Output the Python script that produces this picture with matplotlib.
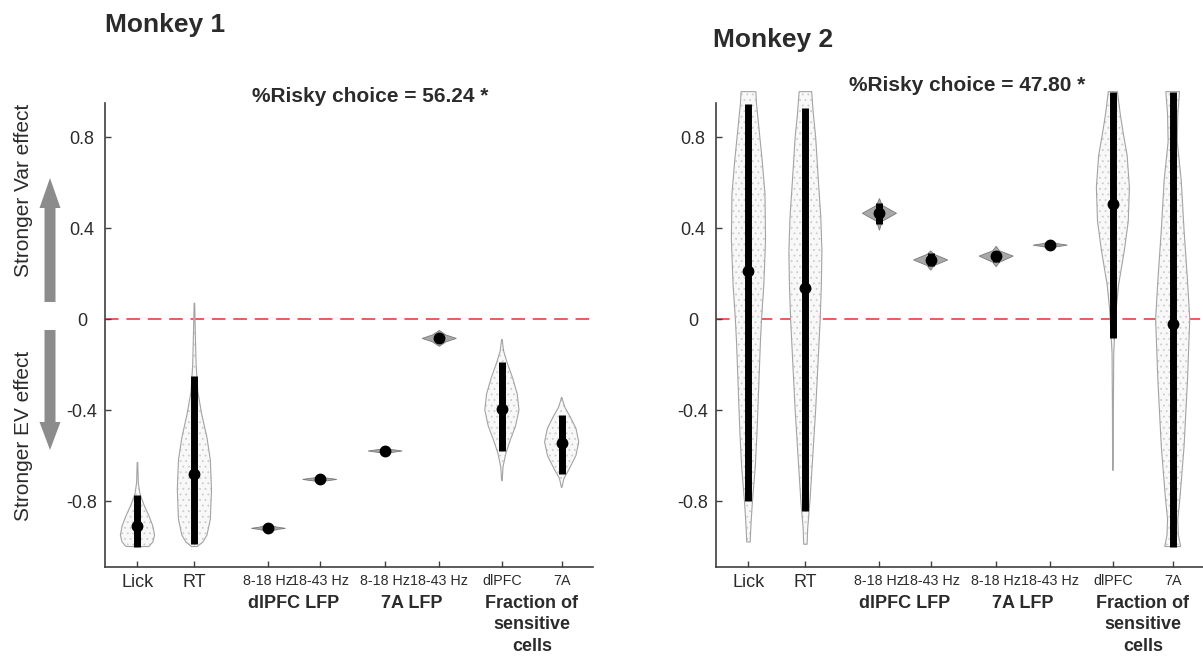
import numpy as np
import matplotlib.pyplot as plt
from matplotlib.patches import Polygon, FancyArrow

plt.rcParams['font.family'] = ['Liberation Sans', 'DejaVu Sans']
plt.rcParams['hatch.linewidth'] = 0.6

# categories along the x axis (same for both monkeys)
positions = [1, 2, 3.3, 4.2, 5.35, 6.3, 7.4, 8.45]
tick_labels = ['Lick', 'RT', '8-18 Hz', '18-43 Hz', '8-18 Hz', '18-43 Hz', 'dlPFC', '7A']
tick_sizes = [13, 13, 10.3, 10.3, 10.3, 10.3, 10.3, 10.3]
lfp_cats = [2, 3, 4, 5]  # small dark violins
group_labels = ['dlPFC LFP', '7A LFP', 'Fraction of\nsensitive\ncells']
group_pairs = [(2, 3), (4, 5), (6, 7)]

# Monkey 1
m1_title = '%Risky choice = 56.24 *'
m1_median = [-0.91, -0.68, -0.92, -0.705, -0.58, -0.085, -0.395, -0.545]
m1_bar_lo = [-1.0, -0.99, -0.925, -0.71, -0.585, -0.10, -0.58, -0.68]
m1_bar_hi = [-0.775, -0.25, -0.915, -0.70, -0.575, -0.07, -0.19, -0.42]
# violin outlines: (value, half width)
m1_profiles = [
    [(-1.0, 0.2), (-0.98, 0.27), (-0.95, 0.3), (-0.91, 0.27), (-0.87, 0.21), (-0.82, 0.12),
     (-0.77, 0.045), (-0.72, 0.015), (-0.63, 0.005)],
    [(-1.0, 0.05), (-0.98, 0.15), (-0.95, 0.22), (-0.88, 0.28), (-0.75, 0.3), (-0.62, 0.28),
     (-0.52, 0.22), (-0.42, 0.13), (-0.32, 0.06), (-0.2, 0.03), (-0.05, 0.015), (0.07, 0.005)],
    [(-0.935, 0.0), (-0.925, 0.16), (-0.92, 0.3), (-0.915, 0.16), (-0.905, 0.0)],
    [(-0.715, 0.0), (-0.71, 0.16), (-0.705, 0.3), (-0.70, 0.16), (-0.695, 0.0)],
    [(-0.59, 0.0), (-0.585, 0.16), (-0.58, 0.3), (-0.575, 0.16), (-0.57, 0.0)],
    [(-0.12, 0.0), (-0.1, 0.12), (-0.085, 0.3), (-0.07, 0.12), (-0.05, 0.0)],
    [(-0.71, 0.005), (-0.65, 0.02), (-0.59, 0.07), (-0.53, 0.15), (-0.47, 0.24), (-0.40, 0.3),
     (-0.33, 0.27), (-0.26, 0.19), (-0.19, 0.09), (-0.14, 0.03), (-0.09, 0.005)],
    [(-0.74, 0.005), (-0.70, 0.04), (-0.66, 0.13), (-0.60, 0.25), (-0.54, 0.3), (-0.48, 0.25),
     (-0.43, 0.15), (-0.39, 0.06), (-0.36, 0.02), (-0.345, 0.005)],
]

# Monkey 2
m2_title = '%Risky choice = 47.80 *'
m2_median = [0.21, 0.135, 0.465, 0.26, 0.277, 0.325, 0.505, -0.02]
m2_bar_lo = [-0.80, -0.845, 0.42, 0.235, 0.25, 0.32, -0.085, -1.0]
m2_bar_hi = [0.945, 0.93, 0.51, 0.29, 0.30, 0.33, 1.0, 1.0]
m2_profiles = [
    [(-0.98, 0.03), (-0.9, 0.045), (-0.8, 0.07), (-0.65, 0.12), (-0.5, 0.15), (-0.3, 0.18),
     (-0.1, 0.21), (0.0, 0.23), (0.15, 0.27), (0.35, 0.3), (0.55, 0.29), (0.7, 0.24),
     (0.85, 0.18), (0.95, 0.14), (1.0, 0.13)],
    [(-0.99, 0.03), (-0.92, 0.04), (-0.8, 0.08), (-0.6, 0.13), (-0.4, 0.18), (-0.2, 0.22),
     (0.0, 0.26), (0.15, 0.28), (0.3, 0.29), (0.45, 0.27), (0.6, 0.23), (0.8, 0.18),
     (0.9, 0.14), (1.0, 0.11)],
    [(0.39, 0.0), (0.43, 0.05), (0.465, 0.3), (0.50, 0.05), (0.53, 0.0)],
    [(0.215, 0.0), (0.235, 0.06), (0.26, 0.3), (0.285, 0.06), (0.30, 0.0)],
    [(0.23, 0.0), (0.25, 0.06), (0.277, 0.3), (0.30, 0.06), (0.32, 0.0)],
    [(0.31, 0.0), (0.318, 0.12), (0.325, 0.3), (0.332, 0.12), (0.34, 0.0)],
    [(-0.665, 0.005), (-0.4, 0.008), (-0.15, 0.015), (-0.05, 0.035), (0.05, 0.06), (0.15, 0.1),
     (0.3, 0.2), (0.43, 0.27), (0.58, 0.29), (0.72, 0.25), (0.82, 0.18), (0.9, 0.13), (1.0, 0.08)],
    [(-1.0, 0.14), (-0.95, 0.1), (-0.88, 0.09), (-0.78, 0.13), (-0.56, 0.2), (-0.27, 0.26),
     (0.0, 0.3), (0.17, 0.26), (0.39, 0.2), (0.61, 0.15), (0.78, 0.08), (0.9, 0.09), (1.0, 0.12)],
]

yticks = [-0.8, -0.4, 0, 0.4, 0.8]
ytick_labels = ['-0.8', '-0.4', '0', '0.4', '0.8']

TXT = '#2b2b2b'


def draw_violin(ax, x, prof, dark):
    ys = np.array([p[0] for p in prof])
    hw = np.array([p[1] for p in prof])
    verts = np.column_stack([np.r_[x + hw, (x - hw)[::-1]], np.r_[ys, ys[::-1]]])
    if dark:
        ax.add_patch(Polygon(verts, closed=True, facecolor='#a8a8a8', edgecolor='#7a7a7a',
                             lw=0.6, clip_on=False, zorder=2))
    else:
        ax.add_patch(Polygon(verts, closed=True, facecolor='#f8f8f8', edgecolor='#cdcdcd',
                             hatch='...', lw=0, clip_on=False, zorder=2))
        ax.add_patch(Polygon(verts, closed=True, fill=False, edgecolor='#a3a3a3',
                             lw=0.8, clip_on=False, zorder=3))


def draw_panel(ax, title, medians, lo, hi, profiles, title_xy):
    for i, x in enumerate(positions):
        draw_violin(ax, x, profiles[i], i in lfp_cats)
        ax.plot([x, x], [lo[i], hi[i]], color='k', lw=5, solid_capstyle='butt',
                zorder=4, clip_on=False)
        ax.plot(x, medians[i], 'o', color='k', ms=7.5, zorder=5, clip_on=False)
    ax.axhline(0, color='#ef5a5a', lw=1.4, ls=(0, (7, 4)), zorder=1)
    ax.set_xlim(0.43, 9.0)
    ax.set_ylim(-1.09, 0.95)
    ax.set_yticks(yticks)
    ax.set_yticklabels(ytick_labels, fontsize=13, color=TXT, ha='center')
    ax.set_xticks(positions)
    ax.set_xticklabels(tick_labels, color=TXT)
    for lab, fs in zip(ax.get_xticklabels(), tick_sizes):
        lab.set_fontsize(fs)
    ax.tick_params(axis='y', direction='in', length=4, width=1, color='#404040', pad=16.5)
    ax.tick_params(axis='x', direction='in', length=4, width=1, color='#404040', pad=5)
    for s in ['top', 'right']:
        ax.spines[s].set_visible(False)
    for s in ['left', 'bottom']:
        ax.spines[s].set_color('#404040')
        ax.spines[s].set_linewidth(1.2)
    for (a, b), g in zip(group_pairs, group_labels):
        xc = (positions[a] + positions[b]) / 2
        ax.text(xc, -0.06, g, transform=ax.get_xaxis_transform(), ha='center', va='top',
                fontsize=13, fontweight='bold', color=TXT, linespacing=1.35)
    ax.text(title_xy[0], title_xy[1], title, transform=ax.transAxes, ha='center',
            va='center', fontsize=15, fontweight='bold', color=TXT)


fig = plt.figure(figsize=(12.03, 6.56), dpi=100)

# overlay in pixel coordinates for the free annotations
ov = fig.add_axes([0, 0, 1, 1])
ov.set_xlim(0, 1203)
ov.set_ylim(656, 0)
ov.axis('off')
ov.text(105, 25, 'Monkey 1', fontsize=19, fontweight='bold', color=TXT, ha='left', va='center')
ov.text(713, 40, 'Monkey 2', fontsize=19, fontweight='bold', color=TXT, ha='left', va='center')
ov.text(24, 190, 'Stronger Var effect', rotation=90, fontsize=15, color=TXT, ha='center', va='center')
ov.text(24, 436, 'Stronger EV effect', rotation=90, fontsize=15, color=TXT, ha='center', va='center')
ov.add_patch(FancyArrow(50, 302, 0, -124, width=11, head_width=21, head_length=30,
                        length_includes_head=True, color='#8c8c8c', lw=0))
ov.add_patch(FancyArrow(50, 330, 0, 120, width=11, head_width=21, head_length=28,
                        length_includes_head=True, color='#8c8c8c', lw=0))

ax1 = fig.add_axes([105 / 1203, 89 / 656, 488 / 1203, 464 / 656])
ax2 = fig.add_axes([716 / 1203, 89 / 656, 488 / 1203, 464 / 656])
for a in (ax1, ax2):
    a.patch.set_alpha(0)

draw_panel(ax1, m1_title, m1_median, m1_bar_lo, m1_bar_hi, m1_profiles, (0.543, 1.013))
draw_panel(ax2, m2_title, m2_median, m2_bar_lo, m2_bar_hi, m2_profiles, (0.514, 1.037))

fig.savefig('out.png', dpi=100)
